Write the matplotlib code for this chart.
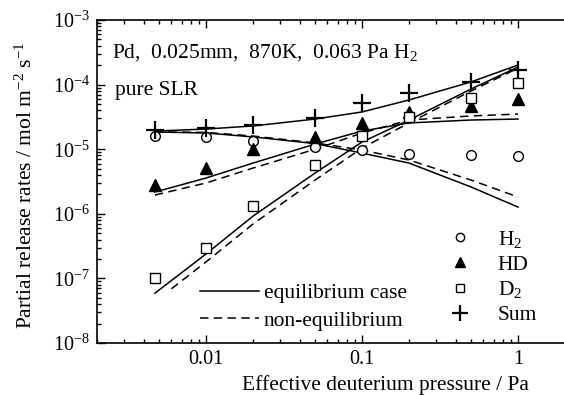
import matplotlib
matplotlib.use("Agg")
import matplotlib.pyplot as plt
from matplotlib.lines import Line2D

plt.rcParams['font.family'] = ['Liberation Serif', 'DejaVu Serif']
plt.rcParams['mathtext.fontset'] = 'custom'
plt.rcParams['mathtext.rm'] = 'Liberation Serif'
plt.rcParams['mathtext.it'] = 'Liberation Serif:italic'
plt.rcParams['mathtext.bf'] = 'Liberation Serif:bold'

# ---- data ----
x_meas = [0.0047, 0.01, 0.02, 0.05, 0.1, 0.2, 0.5, 1.0]
h2_meas = [1.6e-5, 1.53e-5, 1.32e-5, 1.1e-5, 9.8e-6, 8.5e-6, 8.2e-6, 7.9e-6]
hd_meas = [2.8e-6, 5.2e-6, 1.02e-5, 1.55e-5, 2.55e-5, 3.77e-5, 4.7e-5, 6.0e-5]
d2_meas = [1.02e-7, 3.0e-7, 1.32e-6, 5.7e-6, 1.6e-5, 3.2e-5, 6.2e-5, 1.06e-4]
sum_meas = [1.98e-5, 2.1e-5, 2.37e-5, 3.04e-5, 5.2e-5, 7.4e-5, 1.1e-4, 1.68e-4]

x_model = [0.0047, 0.01, 0.02, 0.05, 0.1, 0.2, 0.5, 1.0]
h2_eq = [1.85e-5, 1.78e-5, 1.55e-5, 1.22e-5, 8.7e-6, 6.1e-6, 2.6e-6, 1.27e-6]
h2_neq = [1.85e-5, 1.82e-5, 1.6e-5, 1.25e-5, 9.7e-6, 6.8e-6, 3.33e-6, 1.82e-6]
hd_eq = [2.17e-6, 3.58e-6, 6.1e-6, 1.2e-5, 1.91e-5, 2.55e-5, 2.83e-5, 2.93e-5]
hd_neq = [1.95e-6, 3.0e-6, 5.1e-6, 1.0e-5, 1.78e-5, 2.83e-5, 3.27e-5, 3.5e-5]
d2_eq = [5.9e-8, 2.39e-7, 9.2e-7, 4.28e-6, 1.29e-5, 2.83e-5, 8.55e-5, 1.87e-4]
sum_eq = [1.91e-5, 2.05e-5, 2.29e-5, 2.93e-5, 3.77e-5, 5.78e-5, 1.1e-4, 2.01e-4]

x_d2_neq = [0.006, 0.01, 0.02, 0.05, 0.1, 0.2, 0.5, 1.0]
d2_neq = [6.9e-8, 1.8e-7, 6.95e-7, 3.33e-6, 1.04e-5, 2.55e-5, 7.96e-5, 1.8e-4]

marker_labels = ['H$_2$', 'HD', 'D$_2$', 'Sum']
line_labels = ['equilibrium case', 'non-equilibrium']

# ---- figure ----
W, H = 564, 395
FS = 15.5
fig = plt.figure(figsize=(W / 100, H / 100), dpi=100)
ax = fig.add_axes([97 / W, (H - 343) / H, 468 / W, 323 / H])

lw = 1.1
dash = (0, (5.5, 3.5))
ax.plot(x_model, h2_eq, color='black', lw=lw)
ax.plot(x_model, h2_neq, color='black', lw=lw, linestyle=dash)
ax.plot(x_model, hd_eq, color='black', lw=lw)
ax.plot(x_model, hd_neq, color='black', lw=lw, linestyle=dash)
ax.plot(x_model, d2_eq, color='black', lw=lw)
ax.plot(x_d2_neq, d2_neq, color='black', lw=lw, linestyle=dash)
ax.plot(x_model, sum_eq, color='black', lw=lw)

ax.plot(x_meas, h2_meas, linestyle='none', marker='o', ms=7, mfc='white', mec='black', mew=1.0)
ax.plot(x_meas, hd_meas, linestyle='none', marker='^', ms=8, mfc='black', mec='black')
ax.plot(x_meas, d2_meas, linestyle='none', marker='s', ms=6.5, mfc='white', mec='black', mew=1.0)
ax.plot(x_meas, sum_meas, linestyle='none', marker='+', ms=13, mec='black', mew=1.6)

ax.set_xscale('log')
ax.set_yscale('log')
ax.set_xlim(0.002, 2)
ax.set_ylim(1e-8, 1e-3)

ax.spines['right'].set_visible(False)
for s in ['left', 'bottom', 'top']:
    ax.spines[s].set_linewidth(1.2)

ax.tick_params(which='both', direction='in', top=True, right=False, labelsize=14.5, width=1.0)
ax.tick_params(which='major', length=5.5, pad=5)
ax.tick_params(which='minor', length=3)
ax.set_xticks([0.01, 0.1, 1])
ax.set_xticklabels(['0.01', '0.1', '1'])

ax.set_xlabel('Effective deuterium pressure / Pa', fontsize=FS)
ax.xaxis.set_label_coords((385 - 97) / 468, -(385 - 343) / 323)
ax.xaxis.label.set_va('center')
ax.set_ylabel('Partial release rates / mol m$^{-2}$ s$^{-1}$', fontsize=FS)
ax.yaxis.set_label_coords(-(97 - 26) / 468, (343 - 185) / 323)
ax.yaxis.label.set_va('center')

ax.text((112 - 97) / 468, (343 - 53) / 323, 'Pd,  0.025mm,  870K,  0.063 Pa H$_2$',
        transform=ax.transAxes, fontsize=FS, va='center', ha='left')
ax.text((115 - 97) / 468, (343 - 90) / 323, 'pure SLR',
        transform=ax.transAxes, fontsize=FS, va='center', ha='left')

# legends
line_handles = [Line2D([], [], color='black', lw=lw),
                Line2D([], [], color='black', lw=lw, linestyle=dash)]
leg1 = ax.legend(line_handles, line_labels, loc='center left',
                 bbox_to_anchor=((200 - 97) / 468, (343 - 307) / 323),
                 frameon=False, fontsize=FS, handlelength=2.75, handletextpad=0.2,
                 labelspacing=0.35, borderpad=0, borderaxespad=0)
ax.add_artist(leg1)

mk_handles = [Line2D([], [], linestyle='none', marker='o', ms=6, mfc='white', mec='black'),
              Line2D([], [], linestyle='none', marker='^', ms=7, mfc='black', mec='black'),
              Line2D([], [], linestyle='none', marker='s', ms=5.5, mfc='white', mec='black'),
              Line2D([], [], linestyle='none', marker='+', ms=11, mec='black', mew=1.6)]
leg2 = ax.legend(mk_handles, marker_labels, loc='center left',
                 bbox_to_anchor=((448 - 97) / 468, (343 - 277) / 323),
                 frameon=False, fontsize=FS, handlelength=1.1, handletextpad=1.2,
                 labelspacing=0.22, borderpad=0, borderaxespad=0)

fig.savefig('out.png', dpi=100)
